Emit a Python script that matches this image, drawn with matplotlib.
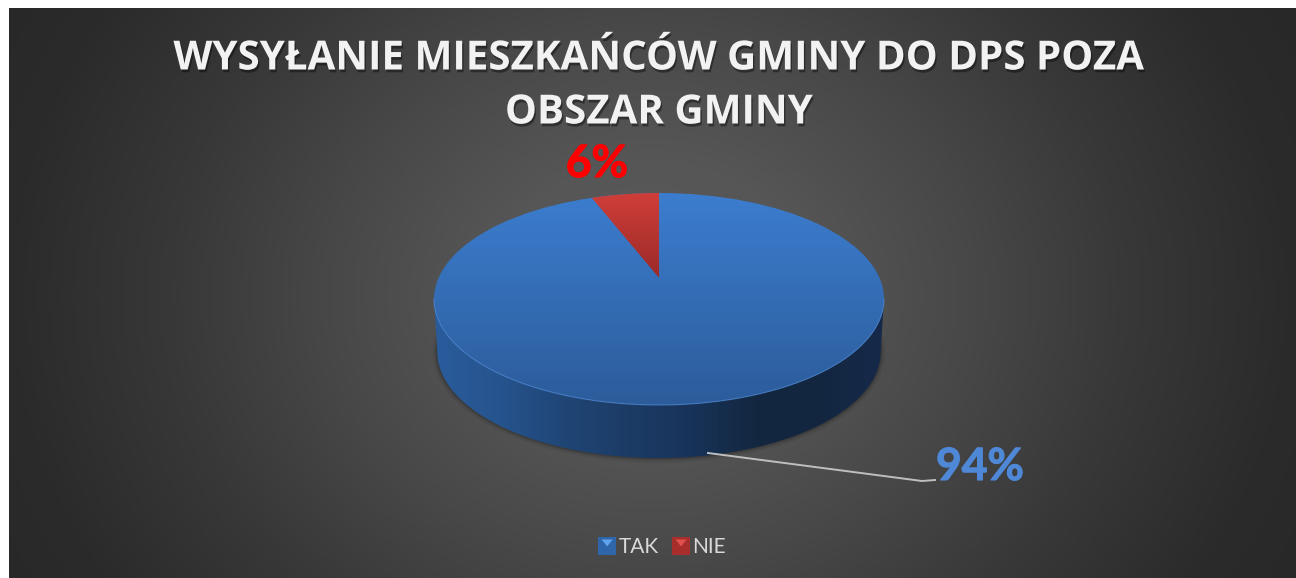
import numpy as np
import matplotlib
matplotlib.use("Agg")
import matplotlib.pyplot as plt
import matplotlib.patheffects as pe
from matplotlib.colors import LinearSegmentedColormap as LSC
from matplotlib.lines import Line2D
from matplotlib.patches import Polygon, Patch, Ellipse
from matplotlib.legend_handler import HandlerBase

title_text = "WYSYŁANIE MIESZKAŃCÓW GMINY DO DPS POZA\nOBSZAR GMINY"
categories = ["TAK", "NIE"]
values = [94, 6]
value_labels = ["94%", "6%"]

W, H = 1296, 578
fig = plt.figure(figsize=(W / 100, H / 100), dpi=100, facecolor="white")

# page background in pixel coordinates
bg = fig.add_axes([0, 0, 1, 1])
bg.axis("off")
xx, yy = np.meshgrid(np.linspace(9, W, 520), np.linspace(8, H, 240))
rr = np.sqrt(((xx - 650) / 760) ** 2 + ((yy - 295) / 650) ** 2)
bg_cmap = LSC.from_list("bg", ["#5b5b5b", "#565656", "#484848", "#383838", "#2b2b2b", "#262626"])
bg.imshow(np.clip(rr / 1.05, 0, 1), extent=(9, W, H, 8), cmap=bg_cmap, vmin=0, vmax=1,
          aspect="auto", interpolation="bilinear")
bg.set_xlim(0, W)
bg.set_ylim(H, 0)

# pie axes: unit circle stretched to the tilted ellipse, with room below for the side wall
cx, cy, rx, ry = 659, 299, 225, 106
depth, r2 = 0.5, 0.985
low = -1 - depth - 0.05
ax = fig.add_axes([(cx - rx) / W, 1 - (cy - low * ry) / H, 2 * rx / W, (1 - low) * ry / H], facecolor="none")
ax.axis("off")
wedges, _ = ax.pie(values, startangle=90, counterclock=False, radius=1, frame=False)
for w in wedges:
    w.set_visible(False)
ax.set_aspect("auto")

def grad(colors, vertical=True, extent=(-1, 1, -1, 1)):
    g = np.linspace(0, 1, 256)
    g = g[:, None] if vertical else g[None, :]
    return ax.imshow(g, cmap=LSC.from_list("c", colors), extent=extent, aspect="auto",
                     origin="upper" if vertical else "lower", vmin=0, vmax=1, zorder=2)

t = np.linspace(np.pi, 2 * np.pi, 200)
# soft shadow around the side wall
for lw, a in [(7, 0.05), (4, 0.08), (2, 0.14)]:
    ax.add_patch(Ellipse((0, -depth), 2 * r2, 2, fill=False, ec="black", lw=lw, alpha=a, zorder=1, clip_on=False))

# side wall
wall = np.vstack([np.c_[np.cos(t), np.sin(t)],
                  np.c_[r2 * np.cos(t[::-1]), np.sin(t[::-1]) - depth]])
wall_p = Polygon(wall, closed=True, fc="none", ec="none")
ax.add_patch(wall_p)
im = grad(["#2a5c9c", "#26548e", "#204676", "#1c3c66", "#18335a", "#13273f", "#132640", "#16294a"], vertical=False,
          extent=(-1, 1, -1.6, 1))
im.set_clip_path(wall_p)

# top face
top_p = Ellipse((0, 0), 2, 2, fc="none", ec="none")
ax.add_patch(top_p)
im = grad(["#3c7dcf", "#2c5c9a"])
im.set_clip_path(top_p)
ax.plot(np.cos(t), np.sin(t), color="#4d8bdc", lw=0.8, alpha=0.7, zorder=3, clip_on=False)

# NIE slice: rays from the apex (shifted by the perspective) at the pie's angles, cut at the rim
nie = wedges[1]
a = np.radians(np.linspace(nie.theta1, nie.theta2, 30))
apex_y = 0.2
s = -apex_y * np.sin(a) + np.sqrt((apex_y * np.sin(a)) ** 2 + 1 - apex_y ** 2)
arc = np.c_[s * np.cos(a), apex_y + s * np.sin(a)]
red_p = Polygon(np.vstack([[0, apex_y], arc]), closed=True, fc="none", ec="none")
ax.add_patch(red_p)
im = grad(["#cf3e39", "#9b2a28"], extent=(-0.4, 0.1, 0.2, 1))
im.set_clip_path(red_p)
im.set_zorder(4)
ax.set_xlim(-1, 1)
ax.set_ylim(low, 1)

# leader line, on top of the pie
fig.add_artist(Line2D([708, 922, 935], [453, 481, 480], color="#bfbfbf", lw=1.4, zorder=5,
                      transform=bg.transData))

# text
fig.text(659 / W, 1 - 86 / H, title_text, ha="center", va="center", color="#f2f2f2",
         fontsize=29, fontweight="bold", family="Open Sans", linespacing=1.5,
         path_effects=[pe.withSimplePatchShadow(offset=(1, -2), shadow_rgbFace="black", alpha=0.4)])
fig.text(980 / W, 1 - 467 / H, value_labels[0], ha="center", va="center", color="#4f88d6",
         fontsize=32, fontweight="bold", family="Lato",
         path_effects=[pe.withStroke(linewidth=0.8, foreground="#4f88d6")])
fig.text(597 / W, 1 - 164 / H, value_labels[1], ha="center", va="center", color="#ff0000",
         fontsize=32, fontweight="bold", family="Lato",
         path_effects=[pe.withStroke(linewidth=0.8, foreground="#ff0000")])

# legend with bevelled keys
class BevelKey(HandlerBase):
    def create_artists(self, legend, orig, xd, yd, width, height, fontsize, trans):
        s = 13
        x0 = -xd + (width - s) / 2
        y0 = -yd + (height - s) / 2
        sq = plt.Rectangle((x0, y0), s, s, fc=orig.get_facecolor(), ec="none", transform=trans)
        tri = Polygon([[x0 + 2.5, y0 + s - 2], [x0 + s - 2.5, y0 + s - 2], [x0 + s / 2, y0 + s / 2 - 0.5]],
                      closed=True, fc=orig.get_edgecolor(), ec="none", transform=trans)
        return [sq, tri]

handles = [Patch(fc="#2f66aa", ec="#5fa3ee"), Patch(fc="#a82e2c", ec="#e0504c")]
bg.legend(handles, categories, handler_map={Patch: BevelKey()}, loc="center",
          bbox_to_anchor=(663 / W, 1 - 547 / H), bbox_transform=fig.transFigure,
          ncol=2, frameon=False, labelcolor="#d9d9d9", prop={"family": "Lato", "size": 15},
          handlelength=0.7, handletextpad=0.2, columnspacing=0.72)

fig.savefig("out.png", dpi=100, facecolor="white")
